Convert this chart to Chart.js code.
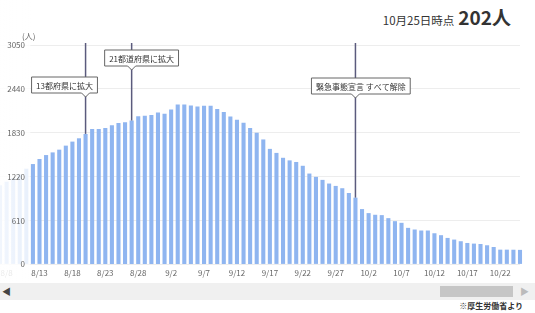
<!DOCTYPE html>
<html>
<head>
<meta charset="utf-8">
<script src="https://cdn.jsdelivr.net/npm/chart.js@4.4.0/dist/chart.umd.min.js"></script>
<style>
body { margin: 0; background: #fff; font-family: "Noto Sans CJK JP", sans-serif; }
#wrap { position: relative; width: 535px; height: 313px; overflow: hidden; }
#c { position: absolute; left: 0; top: 0; }
#title { position: absolute; right: 24px; top: 3px; color: #333; white-space: nowrap; }
#title .d { font-size: 11.5px; }
#title .n { font-size: 19px; font-weight: bold; margin-left: 4px; }
#unit { position: absolute; left: 22px; top: 30px; font-size: 8px; color: #666; }
#bar { position: absolute; left: 0; top: 283px; width: 535px; height: 17px; background: #f0f0f0; }
#bar .l { position: absolute; left: 2px; top: 2px; font-size: 9px; color: #444; }
#bar .r { position: absolute; left: 520px; top: 2px; font-size: 9px; color: #bbb; }
#bar .thumb { position: absolute; left: 440px; top: 3px; width: 73px; height: 11px; background: #c6c6c6; }
#src { position: absolute; right: 12px; top: 300px; font-size: 8px; font-weight: bold; color: #333; }
</style>
</head>
<body>
<div id="wrap">
  <div id="title"><span class="d">10月25日時点</span><span class="n">202人</span></div>
  <canvas id="c" width="535" height="282"></canvas>
  <div id="unit">(人)</div>
  <div id="bar"><span class="l">◀</span><div class="thumb"></div><span class="r">▶</span></div>
  <div id="src">※厚生労働省より</div>
</div>
<script>
// 重症者数 (8/7 - 10/25)
const dates = [
  '8/7','8/8','8/9','8/10','8/11','8/12','8/13','8/14','8/15','8/16',
  '8/17','8/18','8/19','8/20','8/21','8/22','8/23','8/24','8/25','8/26',
  '8/27','8/28','8/29','8/30','8/31',
  '9/1','9/2','9/3','9/4','9/5','9/6','9/7','9/8','9/9','9/10',
  '9/11','9/12','9/13','9/14','9/15','9/16','9/17','9/18','9/19','9/20',
  '9/21','9/22','9/23','9/24','9/25','9/26','9/27','9/28','9/29','9/30',
  '10/1','10/2','10/3','10/4','10/5','10/6','10/7','10/8','10/9','10/10',
  '10/11','10/12','10/13','10/14','10/15','10/16','10/17','10/18','10/19','10/20',
  '10/21','10/22','10/23','10/24','10/25'
];
const severe = [
  1100,1150,1200,1250,1330,1395,1465,1520,1557,1595,
  1651,1707,1753,1814,1884,1884,1895,1935,1965,1977,
  2000,2058,2068,2078,2110,
  2096,2154,2222,2222,2208,2194,2206,2206,2162,2120,
  2056,2012,1968,1896,1830,1737,1606,1550,1482,1446,
  1424,1371,1263,1217,1175,1124,1091,1059,993,928,
  769,713,690,685,643,601,578,508,485,471,
  471,433,406,368,345,322,298,289,284,266,
  242,205,205,204,202
];
const yTicks = [0, 610, 1220, 1830, 2440, 3050];

const noteDates = ['8/20', '8/27', '9/30'];
const noteTexts = ['13都府県に拡大', '21都道府県に拡大', '緊急事態宣言 すべて解除'];
// box placement: left offset from the line, top of the box
const noteBoxes = [{ dx: -54, top: 77 }, { dx: -27, top: 50 }, { dx: -44, top: 78 }];

// white veil over the scrolled-out part, y labels drawn on top of it
const fadePlugin = {
  id: 'fade',
  afterDatasetsDraw(chart) {
    const ctx = chart.ctx;
    const ys = chart.scales.y;
    const g = ctx.createLinearGradient(0, 0, 31, 0);
    g.addColorStop(0, 'rgba(255,255,255,0.88)');
    g.addColorStop(0.95, 'rgba(255,255,255,0.8)');
    g.addColorStop(1, 'rgba(255,255,255,0)');
    ctx.save();
    ctx.fillStyle = g;
    ctx.fillRect(0, 0, 31, chart.height);
    ctx.font = '8px "Noto Sans CJK JP", sans-serif';
    ctx.fillStyle = '#666';
    ctx.textAlign = 'right';
    ctx.textBaseline = 'middle';
    ys.ticks.forEach(t => {
      ctx.fillText(String(t.value), 25, ys.getPixelForValue(t.value));
    });
    ctx.restore();
  }
};

const notePlugin = {
  id: 'notes',
  afterDraw(chart) {
    const ctx = chart.ctx;
    const xs = chart.scales.x, ys = chart.scales.y;
    noteDates.forEach((d, k) => {
      const i = dates.indexOf(d);
      const px = xs.getPixelForValue(i);
      const py = ys.getPixelForValue(severe[i]);
      ctx.save();
      ctx.strokeStyle = '#5b5b7d';
      ctx.lineWidth = 1.5;
      ctx.beginPath();
      ctx.moveTo(px, chart.chartArea.top - 2);
      ctx.lineTo(px, py);
      ctx.stroke();

      ctx.font = '8px "Noto Sans CJK JP", sans-serif';
      const w = ctx.measureText(noteTexts[k]).width + 9;
      const h = 16;
      const left = px + noteBoxes[k].dx;
      const top = noteBoxes[k].top;
      ctx.beginPath();
      ctx.moveTo(left, top);
      ctx.lineTo(left + w, top);
      ctx.lineTo(left + w, top + h);
      ctx.lineTo(px + 4, top + h);
      ctx.lineTo(px, top + h + 4);
      ctx.lineTo(px - 4, top + h);
      ctx.lineTo(left, top + h);
      ctx.closePath();
      ctx.fillStyle = '#fff';
      ctx.fill();
      ctx.strokeStyle = '#666';
      ctx.lineWidth = 1;
      ctx.stroke();
      ctx.fillStyle = '#333';
      ctx.textBaseline = 'middle';
      ctx.fillText(noteTexts[k], left + 4.5, top + h / 2 + 0.5);
      ctx.restore();
    });
  }
};

new Chart(document.getElementById('c'), {
  type: 'bar',
  data: {
    labels: dates,
    datasets: [{
      data: severe,
      backgroundColor: '#8fb5f0',
      barPercentage: 0.62,
      categoryPercentage: 1,
      clip: false
    }]
  },
  options: {
    responsive: false,
    animation: false,
    layout: { padding: { top: 45, right: 15, bottom: 0, left: 0 } },
    plugins: { legend: { display: false }, tooltip: { enabled: false } },
    scales: {
      x: {
        offset: false,
        afterFit: s => { s.paddingLeft = 0; s.paddingRight = 0; },
        grid: { display: false, drawTicks: false },
        border: { display: false },
        ticks: {
          autoSkip: false, maxRotation: 0, padding: 4, color: '#666',
          font: { size: 8, family: '"Noto Sans CJK JP", sans-serif' },
          callback: (v, i) => ((i - 1) % 5 === 0 ? dates[i] : '')
        }
      },
      y: {
        min: 0, max: 3050,
        afterBuildTicks: s => { s.ticks = yTicks.map(v => ({ value: v })); },
        afterFit: s => { s.width = 0; },
        ticks: { display: false },
        grid: { color: '#ededed', drawTicks: false },
        border: { display: false }
      }
    }
  },
  plugins: [fadePlugin, notePlugin]
});
</script>
</body>
</html>
